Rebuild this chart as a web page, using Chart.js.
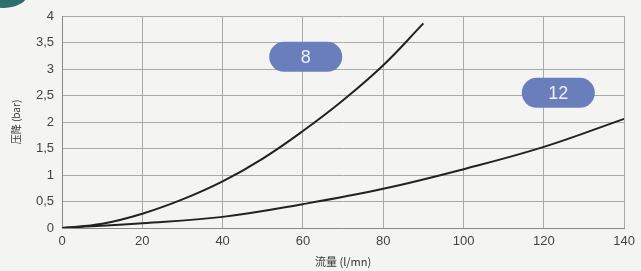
<!DOCTYPE html>
<html><head><meta charset="utf-8">
<script src="https://cdn.jsdelivr.net/npm/chart.js@4.4.0/dist/chart.umd.min.js"></script>
<style>
html,body{margin:0;padding:0;background:#f4f4f2;}
#wrap{position:relative;width:641px;height:271px;}
#corner{position:absolute;left:-20px;top:-22px;width:48px;height:30px;border-radius:50%;background:#2c6f6b;}
</style></head><body>
<div id="wrap"><div id="corner"></div><canvas id="c" width="641" height="271"></canvas></div>
<script>
const flow8 = [0, 10, 20, 30, 40, 50, 60, 70, 80, 90];
const drop8 = [0, 0.08, 0.27, 0.54, 0.88, 1.31, 1.83, 2.41, 3.07, 3.86];
const flow12 = [0, 20, 40, 60, 80, 100, 120, 140];
const drop12 = [0, 0.09, 0.21, 0.45, 0.74, 1.11, 1.53, 2.06];
const xTicks = [0, 20, 40, 60, 80, 100, 120, 140];
const yTicks = [0, 0.5, 1, 1.5, 2, 2.5, 3, 3.5, 4];
const seriesLabels = ['8', '12'];
const labelPos = [[60.7, 3.23], [123.6, 2.55]];

const pillPlugin = {
  id: 'pills',
  afterDatasetsDraw(chart) {
    const {ctx, scales: {x, y}} = chart;
    ctx.save();
    seriesLabels.forEach((t, i) => {
      const cx = x.getPixelForValue(labelPos[i][0]);
      const cy = y.getPixelForValue(labelPos[i][1]);
      const w = 73, h = 30, r = 15;
      ctx.fillStyle = '#6a7ebb';
      ctx.beginPath();
      ctx.moveTo(cx - w/2 + r, cy - h/2);
      ctx.lineTo(cx + w/2 - r, cy - h/2);
      ctx.arc(cx + w/2 - r, cy, r, -Math.PI/2, Math.PI/2);
      ctx.lineTo(cx - w/2 + r, cy + h/2);
      ctx.arc(cx - w/2 + r, cy, r, Math.PI/2, 3*Math.PI/2);
      ctx.closePath();
      ctx.fill();
      ctx.fillStyle = '#eef0f8';
      ctx.font = '18px "Liberation Sans", Arial, sans-serif';
      ctx.textAlign = 'center';
      ctx.textBaseline = 'middle';
      ctx.fillText(t, cx, cy + 1);
    });
    ctx.restore();
  }
};

new Chart(document.getElementById('c'), {
  type: 'line',
  data: {
    datasets: [
      {label: seriesLabels[0], data: flow8.map((v, i) => ({x: v, y: drop8[i]})),
       borderColor: '#222', borderWidth: 2, pointRadius: 0, tension: 0.4, fill: false},
      {label: seriesLabels[1], data: flow12.map((v, i) => ({x: v, y: drop12[i]})),
       borderColor: '#222', borderWidth: 2, pointRadius: 0, tension: 0.4, fill: false}
    ]
  },
  options: {
    responsive: false,
    animation: false,
    layout: {padding: {left: 10, right: 16, top: 16, bottom: 3}},
    plugins: {legend: {display: false}, tooltip: {enabled: false}},
    scales: {
      x: {
        type: 'linear', min: 0, max: 140,
        afterBuildTicks: s => { s.ticks = xTicks.map(v => ({value: v})); },
        afterFit: s => { s.height = 40; },
        grid: {color: '#a9a9a9', lineWidth: 1, drawTicks: false},
        border: {color: '#8a8a8a'},
        ticks: {color: '#444', font: {size: 13, family: '"Liberation Sans", Arial, sans-serif'}, padding: 6, maxRotation: 0},
        title: {display: true, text: '流量 (l/mn)', color: '#333', font: {size: 11, family: '"Noto Sans CJK SC", sans-serif'}, padding: {top: 0, bottom: 0}}
      },
      y: {
        type: 'linear', min: 0, max: 4,
        afterBuildTicks: s => { s.ticks = yTicks.map(v => ({value: v})); },
        afterFit: s => { s.width = 52; },
        grid: {color: '#a9a9a9', lineWidth: 1, drawTicks: false},
        border: {color: '#8a8a8a'},
        ticks: {color: '#444', font: {size: 13, family: '"Liberation Sans", Arial, sans-serif'}, padding: 8,
                callback: v => String(v).replace('.', ',')},
        title: {display: true, text: '压降 (bar)', color: '#333', font: {size: 10, family: '"Noto Sans CJK SC", sans-serif'}, padding: {top: 0, bottom: 2}}
      }
    }
  },
  plugins: [pillPlugin]
});
</script>
</body></html>
